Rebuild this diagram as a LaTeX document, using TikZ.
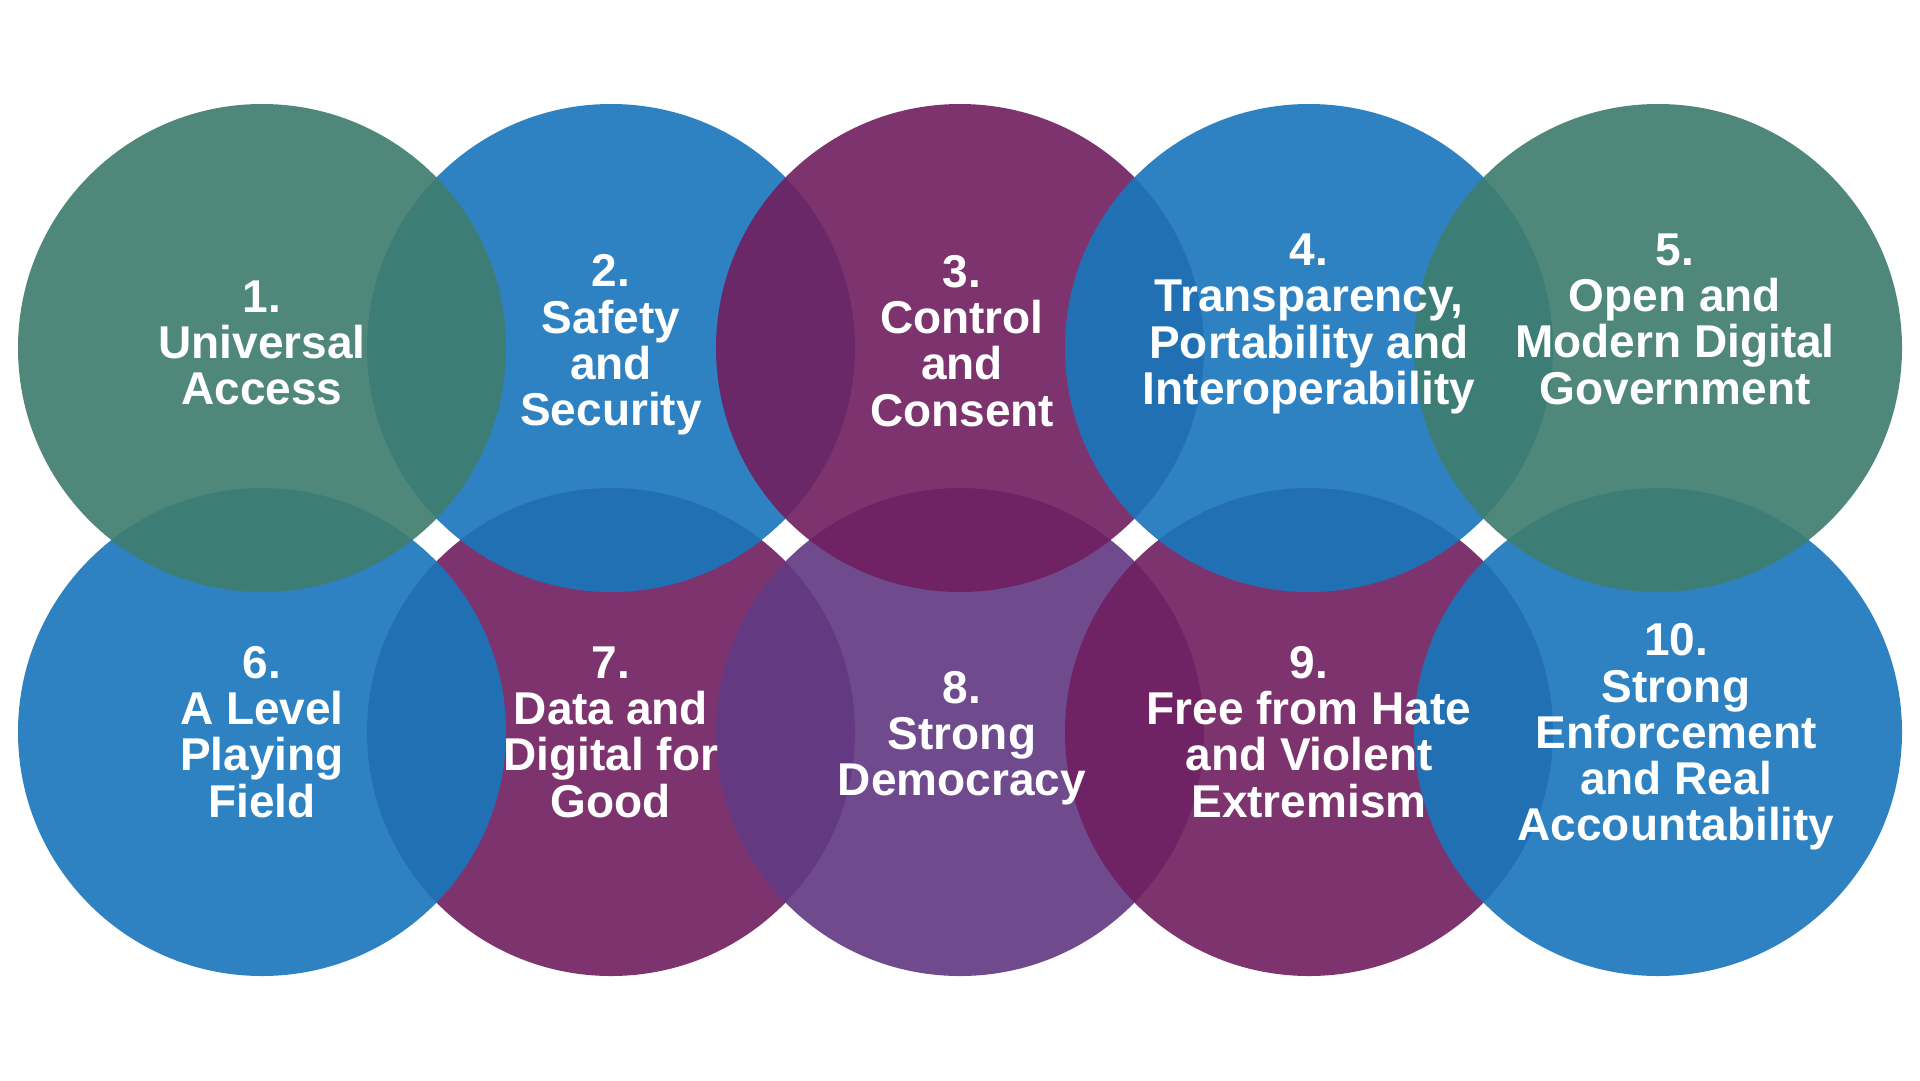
\documentclass[tikz,border=0pt]{standalone}
\usepackage{fontspec}
\setmainfont{Liberation Sans}
\definecolor{cgreen}{HTML}{3E7D6E}
\definecolor{cblue}{HTML}{1A76BC}
\definecolor{cpurple}{HTML}{712060}
\definecolor{cviolet}{HTML}{613A83}
\tikzset{
  disc/.style={circle, minimum size=488pt, inner sep=0pt, draw=none, fill opacity=0.91},
  lbl/.style={text=white, font=\bfseries\fontsize{46}{46.3}\selectfont, align=center, inner sep=0pt}
}
\begin{document}
\begin{tikzpicture}[x=1pt,y=-1pt]
\useasboundingbox (0,0) rectangle (1920,1080);
\fill[white] (0,0) rectangle (1920,1080);
% bottom row (drawn first)
\node[disc, fill=cpurple] (c7) at (611,732) {};
\node[disc, fill=cviolet] (c8) at (960,732) {};
\node[disc, fill=cpurple] (c9) at (1309,732) {};
\node[disc, fill=cblue] (c10) at (1658,732) {};
\node[disc, fill=cblue] (c6) at (262,732) {};
% top row
\node[disc, fill=cblue] (c2) at (611,348) {};
\node[disc, fill=cpurple] (c3) at (960,348) {};
\node[disc, fill=cblue] (c4) at (1309,348) {};
\node[disc, fill=cgreen] (c1) at (262,348) {};
\node[disc, fill=cgreen] (c5) at (1658,348) {};
% labels
\node[lbl] (t1) at (262,343) {1.\\Universal\\Access};
\node[lbl] (t2) at (611,345) {2.\\Safety\\and\\Security};
\node[lbl] (t3) at (962,341) {3.\\Control\\and\\Consent};
\node[lbl] (t4) at (1309,324) {4.\\Transparency,\\Portability and\\Interoperability};
\node[lbl] (t5) at (1675,319) {5.\\Open and\\Modern Digital\\Government};
\node[lbl] (t6) at (262,732) {6.\\A Level\\Playing\\Field};
\node[lbl] (t7) at (611,732) {7.\\Data and\\Digital for\\Good};
\node[lbl] (t8) at (962,738) {8.\\Strong\\Democracy};
\node[lbl] (t9) at (1309,732) {9.\\Free from Hate\\and Violent\\Extremism};
\node[lbl] (t10) at (1676,737) {10.\\Strong\\Enforcement\\and Real\\Accountability};
\end{tikzpicture}
\end{document}
